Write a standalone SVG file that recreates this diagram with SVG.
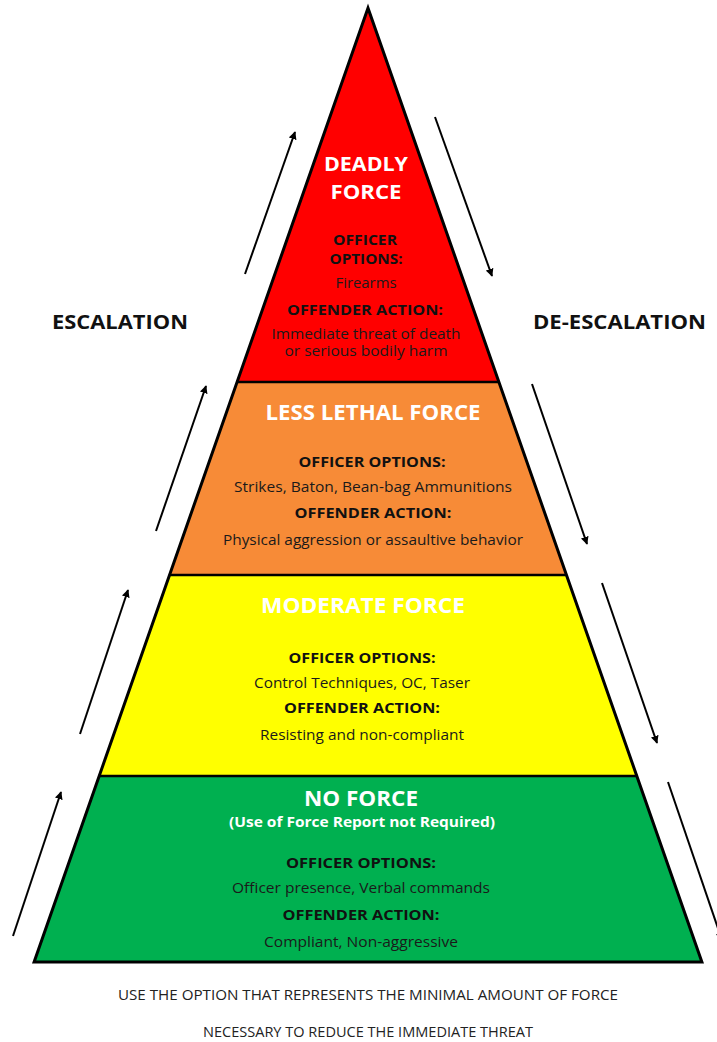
<svg xmlns="http://www.w3.org/2000/svg" width="717" height="1042" viewBox="0 0 717 1042">
<defs>
<marker id="ah" viewBox="0 0 10 10" refX="9" refY="5" markerWidth="4" markerHeight="4" orient="auto" markerUnits="strokeWidth">
<path d="M0,0 L10,5 L0,10 z" fill="#000"/>
</marker>
<style>
text{font-family:"Open Sans","Liberation Sans",sans-serif;text-anchor:middle}
.title{font-size:22px;font-weight:bold;fill:#fff}
.t2{font-size:20px;font-weight:bold;fill:#fff}
.sub{font-size:14px;font-weight:bold;fill:#fff}
.hd{font-size:15px;font-weight:bold;fill:#111}
.hd2{font-size:13.5px;font-weight:bold;fill:#111}
.bd{font-size:14px;fill:#1a1a1a}
.side{font-size:20px;font-weight:bold;fill:#111}
.foot{font-size:14px;fill:#222}
.div{stroke:#000;stroke-width:2.5;fill:none}
.arr{stroke:#000;stroke-width:2;fill:none;marker-end:url(#ah)}
</style>
</defs>
<rect width="717" height="1042" fill="#fff"/>

<g id="deadly-force">
<polygon points="368,8 498.9,382 237.1,382" fill="#ff0000"/>
<text class="t2" x="366" y="171" textLength="84" lengthAdjust="spacingAndGlyphs">DEADLY</text>
<text class="t2" x="366" y="199" textLength="71" lengthAdjust="spacingAndGlyphs">FORCE</text>
<text class="hd2" x="365" y="245" textLength="64" lengthAdjust="spacingAndGlyphs">OFFICER</text>
<text class="hd2" x="366" y="264" textLength="73" lengthAdjust="spacingAndGlyphs">OPTIONS:</text>
<text class="bd" x="366" y="288" textLength="61" lengthAdjust="spacingAndGlyphs">Firearms</text>
<text class="hd" x="365" y="315" textLength="156" lengthAdjust="spacingAndGlyphs">OFFENDER ACTION:</text>
<text class="bd"><tspan x="366" y="339" textLength="189" lengthAdjust="spacingAndGlyphs">Immediate threat of death</tspan><tspan x="366" y="356" textLength="163" lengthAdjust="spacingAndGlyphs">or serious bodily harm</tspan></text>
</g>

<g id="less-lethal-force">
<polygon points="237.1,382 498.9,382 566.5,575 169.5,575" fill="#f78b37"/>
<text class="title" x="373" y="420" textLength="215" lengthAdjust="spacingAndGlyphs">LESS LETHAL FORCE</text>
<text class="hd" x="372" y="467" textLength="147" lengthAdjust="spacingAndGlyphs">OFFICER OPTIONS:</text>
<text class="bd" x="373" y="492" textLength="278" lengthAdjust="spacingAndGlyphs">Strikes, Baton, Bean-bag Ammunitions</text>
<text class="hd" x="373" y="518" textLength="157" lengthAdjust="spacingAndGlyphs">OFFENDER ACTION:</text>
<text class="bd" x="373" y="545" textLength="300" lengthAdjust="spacingAndGlyphs">Physical aggression or assaultive behavior</text>
</g>

<g id="moderate-force">
<polygon points="169.5,575 566.5,575 636.8,776 99.2,776" fill="#ffff00"/>
<text class="title" x="363" y="613" textLength="204" lengthAdjust="spacingAndGlyphs">MODERATE FORCE</text>
<text class="hd" x="362" y="663" textLength="147" lengthAdjust="spacingAndGlyphs">OFFICER OPTIONS:</text>
<text class="bd" x="362" y="688" textLength="216" lengthAdjust="spacingAndGlyphs">Control Techniques, OC, Taser</text>
<text class="hd" x="362" y="713" textLength="156" lengthAdjust="spacingAndGlyphs">OFFENDER ACTION:</text>
<text class="bd" x="362" y="740" textLength="204" lengthAdjust="spacingAndGlyphs">Resisting and non-compliant</text>
</g>

<g id="no-force">
<polygon points="99.2,776 636.8,776 701.9,962 34.1,962" fill="#00b050"/>
<text class="title" x="361" y="806" textLength="114" lengthAdjust="spacingAndGlyphs">NO FORCE</text>
<text class="sub" x="362" y="827" textLength="266" lengthAdjust="spacingAndGlyphs">(Use of Force Report not Required)</text>
<text class="hd" x="361" y="868" textLength="150" lengthAdjust="spacingAndGlyphs">OFFICER OPTIONS:</text>
<text class="bd" x="361" y="893" textLength="258" lengthAdjust="spacingAndGlyphs">Officer presence, Verbal commands</text>
<text class="hd" x="361" y="920" textLength="157" lengthAdjust="spacingAndGlyphs">OFFENDER ACTION:</text>
<text class="bd" x="361" y="947" textLength="194" lengthAdjust="spacingAndGlyphs">Compliant, Non-aggressive</text>
</g>

<g id="pyramid-outline">
<line class="div" x1="237.1" y1="382" x2="498.9" y2="382"/>
<line class="div" x1="169.5" y1="575" x2="566.5" y2="575"/>
<line class="div" x1="99.2" y1="776" x2="636.8" y2="776"/>
<polygon points="368,8 701.9,962 34.1,962" fill="none" stroke="#000" stroke-width="3" stroke-linejoin="miter"/>
</g>

<g id="escalation-label">
<text class="side" x="120" y="329" textLength="136" lengthAdjust="spacingAndGlyphs">ESCALATION</text>
</g>
<g id="de-escalation-label">
<text class="side" x="619.5" y="329" textLength="173" lengthAdjust="spacingAndGlyphs">DE-ESCALATION</text>
</g>

<g id="connectors">
<line class="arr" x1="245" y1="274" x2="295" y2="132"/>
<line class="arr" x1="156" y1="531" x2="206" y2="386"/>
<line class="arr" x1="80" y1="734" x2="128" y2="590"/>
<line class="arr" x1="13" y1="936" x2="61" y2="792"/>
<line class="arr" x1="435" y1="117" x2="492" y2="276"/>
<line class="arr" x1="532" y1="384" x2="587" y2="544"/>
<line class="arr" x1="602" y1="583" x2="657" y2="743"/>
<line class="arr" x1="668" y1="782" x2="722" y2="940"/>
</g>

<g id="footer">
<text class="foot" x="368" y="1000" textLength="500" lengthAdjust="spacingAndGlyphs">USE THE OPTION THAT REPRESENTS THE MINIMAL  AMOUNT OF FORCE</text>
<text class="foot" x="368" y="1037" textLength="330" lengthAdjust="spacingAndGlyphs">NECESSARY TO REDUCE THE IMMEDIATE THREAT</text>
</g>
</svg>
